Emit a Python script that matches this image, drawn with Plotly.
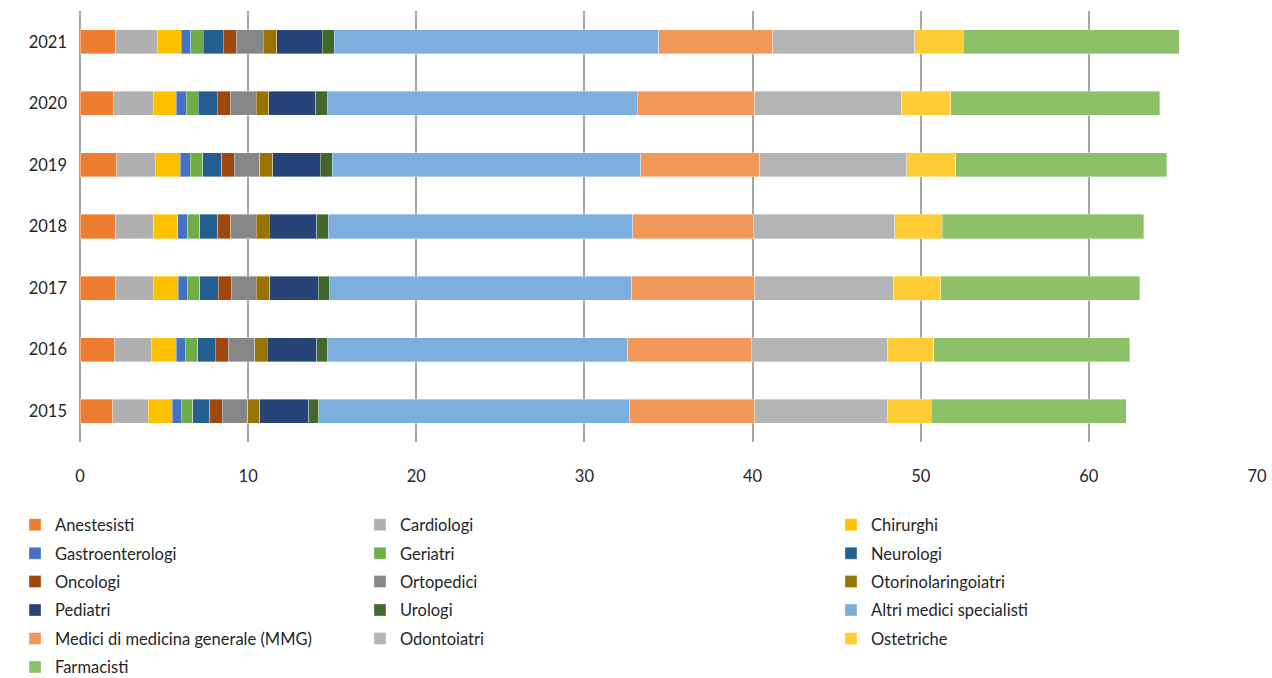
import plotly.graph_objects as go

years = ["2015", "2016", "2017", "2018", "2019", "2020", "2021"]

categories = [
    "Anestesisti", "Cardiologi", "Chirurghi",
    "Gastroenterologi", "Geriatri", "Neurologi",
    "Oncologi", "Ortopedici", "Otorinolaringoiatri",
    "Pediatri", "Urologi", "Altri medici specialisti",
    "Medici di medicina generale (MMG)", "Odontoiatri", "Ostetriche",
    "Farmacisti",
]

# values per year, 2015 -> 2021
anestesisti = [1.96, 2.08, 2.14, 2.14, 2.20, 2.02, 2.14]
cardiologi = [2.11, 2.17, 2.21, 2.24, 2.28, 2.33, 2.46]
chirurghi = [1.41, 1.46, 1.48, 1.43, 1.47, 1.38, 1.41]
gastroenterologi = [0.53, 0.56, 0.56, 0.60, 0.60, 0.58, 0.58]
geriatri = [0.70, 0.73, 0.73, 0.71, 0.75, 0.73, 0.75]
neurologi = [1.01, 1.05, 1.11, 1.08, 1.13, 1.13, 1.19]
oncologi = [0.73, 0.76, 0.76, 0.77, 0.74, 0.78, 0.76]
ortopedici = [1.53, 1.57, 1.50, 1.52, 1.53, 1.54, 1.62]
otorino = [0.72, 0.77, 0.78, 0.76, 0.77, 0.74, 0.78]
pediatri = [2.89, 2.92, 2.90, 2.82, 2.82, 2.78, 2.71]
urologi = [0.62, 0.67, 0.67, 0.69, 0.71, 0.71, 0.72]
altri = [18.49, 17.84, 17.98, 18.10, 18.35, 18.43, 19.30]
mmg = [7.42, 7.36, 7.30, 7.18, 7.09, 6.99, 6.79]
odontoiatri = [7.92, 8.10, 8.29, 8.41, 8.73, 8.73, 8.43]
ostetriche = [2.60, 2.73, 2.78, 2.84, 2.90, 2.92, 2.88]
farmacisti = [11.58, 11.65, 11.83, 11.98, 12.56, 12.42, 12.86]

series = [
    anestesisti, cardiologi, chirurghi, gastroenterologi, geriatri, neurologi,
    oncologi, ortopedici, otorino, pediatri, urologi, altri, mmg, odontoiatri,
    ostetriche, farmacisti,
]

colors = [
    "#ED7D31", "#B0B0B0", "#FFC000", "#4472C4", "#70AD47", "#255E91",
    "#9E480E", "#868686", "#997300", "#264478", "#43682B", "#7CAFDD",
    "#F1975A", "#B4B4B4", "#FFCD33", "#8CC168",
]

legend_ids = ["legend", "legend2", "legend3"]

fig = go.Figure()
for i, (name, vals, col) in enumerate(zip(categories, series, colors)):
    fig.add_trace(go.Bar(
        y=years, x=vals, name=name, orientation="h",
        marker=dict(color=col, line=dict(color="rgba(255,255,255,0.6)", width=0.6)),
        legend=legend_ids[i % 3], legendgroup=name,
    ))

font_family = "Lato, 'Open Sans', sans-serif"
text_color = "#262626"
grid_color = "#A6A6A6"

legend_common = dict(
    orientation="v", yanchor="top", xanchor="left",
    font=dict(family=font_family, size=16.5, color=text_color),
    bgcolor="rgba(0,0,0,0)", tracegroupgap=4, itemwidth=30,
    xref="container", yref="container", y=0.2515,
)

fig.update_layout(
    barmode="stack",
    bargap=0.61,
    width=1272, height=678,
    margin=dict(l=80, r=15, t=11, b=236, autoexpand=False),
    paper_bgcolor="white", plot_bgcolor="white",
    font=dict(family=font_family, size=16, color=text_color),
    legend=dict(**legend_common, x=0.0118),
    legend2=dict(**legend_common, x=0.283),
    legend3=dict(**legend_common, x=0.6533),
    xaxis=dict(
        range=[0, 70], dtick=10, showgrid=True, gridcolor=grid_color, gridwidth=2,
        zeroline=True, zerolinecolor=grid_color, zerolinewidth=2,
        showline=False, ticks="", ticklabelstandoff=22,
        tickfont=dict(family=font_family, size=16.5, color=text_color),
    ),
    yaxis=dict(
        type="category", categoryorder="array", categoryarray=years,
        showgrid=False, showline=False, ticks="", ticklabelstandoff=12,
        tickfont=dict(family=font_family, size=16.5, color=text_color),
    ),
)

fig.write_html("out.html")
